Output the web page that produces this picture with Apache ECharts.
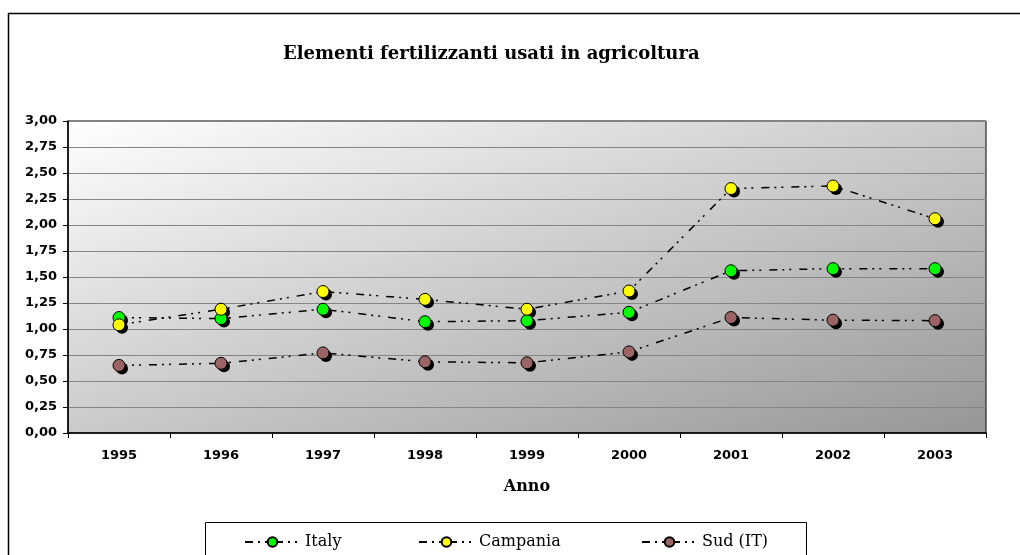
<!DOCTYPE html>
<html>
<head>
<meta charset="utf-8">
<script src="https://cdn.jsdelivr.net/npm/echarts@6/dist/echarts.min.js"></script>
<style>
  html, body { margin: 0; padding: 0; background: #fff; }
  #chart { width: 1020px; height: 555px; }
</style>
</head>
<body>
<div id="chart"></div>
<script>
  const years = ["1995", "1996", "1997", "1998", "1999", "2000", "2001", "2002", "2003"];
  const italy = [1.11, 1.10, 1.19, 1.07, 1.08, 1.16, 1.56, 1.58, 1.58];
  const campania = [1.04, 1.19, 1.36, 1.285, 1.19, 1.365, 2.35, 2.375, 2.06];
  const sud = [0.65, 0.67, 0.77, 0.685, 0.675, 0.78, 1.11, 1.085, 1.08];

  const chart = echarts.init(document.getElementById("chart"));

  // excel style long dash - dot - dot
  const dashDotDot = [8, 5, 2, 5, 2, 8];
  const markerSize = 12;

  function makeSeries(name, data, color) {
    return {
      name: name,
      type: "line",
      data: data,
      symbol: "circle",
      symbolSize: markerSize,
      z: 3,
      lineStyle: { color: "#000", width: 1.5, type: dashDotDot },
      itemStyle: { color: color, borderColor: "#000", borderWidth: 1 },
      emphasis: { disabled: true },
    };
  }

  // black offset circles drawn under the markers as drop shadow
  function shadowSeries(data) {
    return {
      name: "shadow",
      type: "line",
      data: data,
      symbol: "circle",
      symbolSize: markerSize,
      symbolOffset: [3, 3],
      z: 2,
      lineStyle: { width: 0, opacity: 0 },
      itemStyle: { color: "#000", borderWidth: 0 },
      emphasis: { disabled: true },
      silent: true,
    };
  }

  function legendAt(name, left) {
    return {
      left: left,
      top: 529,
      itemWidth: 55,
      itemHeight: 12,
      itemGap: 0,
      z: 5,
      selectedMode: false,
      textStyle: { fontFamily: "DejaVu Serif", fontSize: 16, color: "#000" },
      data: [name],
    };
  }

  chart.setOption({
    backgroundColor: "#fff",
    animation: false,
    title: {
      text: "Elementi fertilizzanti usati in agricoltura",
      left: 278,
      top: 40,
      textStyle: { fontFamily: "DejaVu Serif", fontWeight: "bold", fontSize: 18, color: "#000" },
    },
    graphic: [
      {
        type: "rect",
        left: 6,
        top: 11,
        shape: { width: 1100, height: 700 },
        style: { fill: "none", stroke: "#000", lineWidth: 1.5 },
        silent: true,
        z: -10,
      },
      {
        type: "rect",
        left: 205,
        top: 522,
        shape: { width: 601, height: 80 },
        style: { fill: "#fff", stroke: "#000", lineWidth: 1 },
        silent: true,
        z: 1,
      },
    ],
    legend: [
      legendAt("Italy", 239),
      legendAt("Campania", 413),
      legendAt("Sud (IT)", 636),
    ],
    grid: {
      left: 68,
      right: 34,
      top: 121,
      bottom: 122,
      show: true,
      borderColor: "#000",
      borderWidth: 1,
      backgroundColor: {
        type: "linear",
        global: true,
        x: 432, y: -3, x2: 622, y2: 557,
        colorStops: [
          { offset: 0, color: "#ffffff" },
          { offset: 1, color: "#969696" },
        ],
      },
    },
    xAxis: {
      type: "category",
      data: years,
      boundaryGap: true,
      name: "Anno",
      nameLocation: "middle",
      nameGap: 46,
      nameTextStyle: { fontFamily: "DejaVu Serif", fontWeight: "bold", fontSize: 16, color: "#000" },
      axisLine: { lineStyle: { color: "#000", width: 1.5 } },
      axisTick: { show: true, length: 5, alignWithLabel: false, lineStyle: { color: "#000" } },
      axisLabel: { margin: 16, fontFamily: "DejaVu Sans", fontWeight: "bold", fontSize: 13, color: "#000" },
      splitLine: { show: false },
    },
    yAxis: {
      type: "value",
      min: 0,
      max: 3,
      interval: 0.25,
      axisLine: { show: true, lineStyle: { color: "#000", width: 1.5 } },
      axisTick: { show: true, length: 5, lineStyle: { color: "#000" } },
      axisLabel: {
        margin: 11,
        fontFamily: "DejaVu Sans",
        fontWeight: "bold",
        fontSize: 13,
        color: "#000",
        formatter: (v) => v.toFixed(2).replace(".", ","),
      },
      splitLine: { show: true, lineStyle: { color: "#858585", width: 1 } },
    },
    series: [
      shadowSeries(italy),
      shadowSeries(campania),
      shadowSeries(sud),
      makeSeries("Italy", italy, "#00ff00"),
      makeSeries("Campania", campania, "#ffff00"),
      makeSeries("Sud (IT)", sud, "#9a6464"),
    ],
  });
</script>
</body>
</html>
